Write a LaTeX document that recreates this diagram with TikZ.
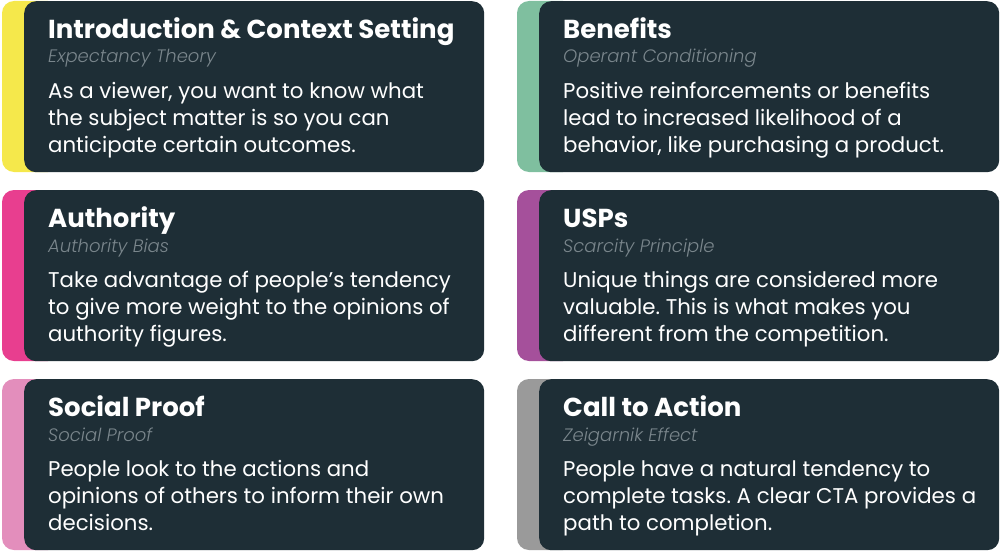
\documentclass[tikz,border=0pt]{standalone}
\usepackage{fontspec}
\setmainfont{Poppins}
\IfFontExistsTF{Poppins Light}{\newfontfamily\sublight{Poppins Light}[ItalicFont={Poppins Light Italic}]}{\newfontfamily\sublight{Poppins}}
\usepackage{xcolor}
\usepackage{tikz}
\usetikzlibrary{positioning}
\frenchspacing

\definecolor{cardbg}{HTML}{1E2E36}
\definecolor{subgray}{HTML}{7A868C}
\definecolor{stripyellow}{HTML}{F5E84B}
\definecolor{stripgreen}{HTML}{7FBF9F}
\definecolor{stripmagenta}{HTML}{E83E8F}
\definecolor{strippurple}{HTML}{A5509B}
\definecolor{strippink}{HTML}{E38EBC}
\definecolor{stripgray}{HTML}{9A9A9A}

\tikzset{
  card/.style={fill=cardbg, rounded corners=12pt, minimum width=460pt, minimum height=171pt, inner sep=0pt, anchor=north west},
  strip/.style={rounded corners=12pt},
  cardtitle/.style={text=white, font=\fontsize{26}{30}\selectfont\bfseries, inner sep=0pt, anchor=base west},
  cardsub/.style={text=subgray, font=\fontsize{18}{21}\selectfont\sublight\itshape, inner sep=0pt, anchor=base west},
  % base of a three-line body is its last line
  cardbody/.style={text=white, font=\fontsize{21.3}{27}\selectfont, align=left, inner sep=0pt, anchor=base west}
}

\begin{document}
\begin{tikzpicture}[x=1pt, y=-1pt]
\useasboundingbox (0,0) rectangle (1000,551);

% row 1
\fill[strip, stripyellow] (2,1) rectangle (60,172);
\node[card] (card_intro) at (24,1) {};
\node[cardtitle] (title_intro) at (48,38) {Introduction \& Context Setting};
\node[cardsub] (sub_intro) at (48,63) {Expectancy Theory};
\node[cardbody] (body_intro) at (48,152) {As a viewer, you want to know what\\the subject matter is so you can\\anticipate certain outcomes.};

\fill[strip, stripgreen] (517,1) rectangle (575,172);
\node[card] (card_benefits) at (539,1) {};
\node[cardtitle] (title_benefits) at (563,38) {Benefits};
\node[cardsub] (sub_benefits) at (563,63) {Operant Conditioning};
\node[cardbody] (body_benefits) at (563,152) {Positive reinforcements or benefits\\lead to increased likelihood of a\\behavior, like purchasing a product.};

% row 2
\fill[strip, stripmagenta] (2,190) rectangle (60,361);
\node[card] (card_authority) at (24,190) {};
\node[cardtitle] (title_authority) at (48,227) {Authority};
\node[cardsub] (sub_authority) at (48,252) {Authority Bias};
\node[cardbody] (body_authority) at (48,341) {Take advantage of people’s tendency\\to give more weight to the opinions of\\authority figures.};

\fill[strip, strippurple] (517,190) rectangle (575,361);
\node[card] (card_usps) at (539,190) {};
\node[cardtitle] (title_usps) at (563,227) {USPs};
\node[cardsub] (sub_usps) at (563,252) {Scarcity Principle};
\node[cardbody] (body_usps) at (563,341) {Unique things are considered more\\valuable. This is what makes you\\different from the competition.};

% row 3
\fill[strip, strippink] (2,379) rectangle (60,550);
\node[card] (card_social) at (24,379) {};
\node[cardtitle] (title_social) at (48,416) {Social Proof};
\node[cardsub] (sub_social) at (48,441) {Social Proof};
\node[cardbody] (body_social) at (48,530) {People look to the actions and\\opinions of others to inform their own\\decisions.};

\fill[strip, stripgray] (517,379) rectangle (575,550);
\node[card] (card_cta) at (539,379) {};
\node[cardtitle] (title_cta) at (563,416) {Call to Action};
\node[cardsub] (sub_cta) at (563,441) {Zeigarnik Effect};
\node[cardbody] (body_cta) at (563,530) {People have a natural tendency to\\complete tasks. A clear CTA provides a\\path to completion.};

\end{tikzpicture}
\end{document}
